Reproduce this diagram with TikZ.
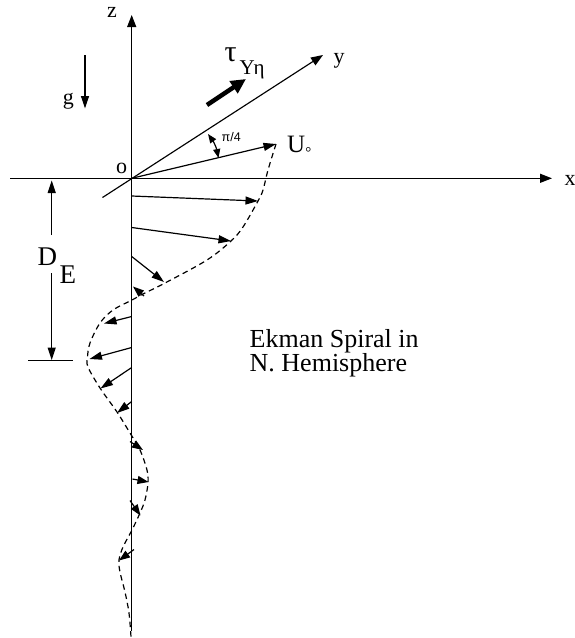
\documentclass[tikz,border=0pt]{standalone}
\usepackage{fontspec}
\setmainfont{Liberation Serif}
\newfontfamily\labsans{Liberation Sans}
\usetikzlibrary{arrows.meta}
\tikzset{
  axis/.style={line width=1.3pt, -{Triangle[length=12pt,width=9pt]}},
  thinaxis/.style={line width=1.3pt},
  vec/.style={line width=1.2pt, -{Triangle[length=12.5pt,width=8pt]}},
  smallvec/.style={line width=1.2pt, -{Triangle[length=11pt,width=8pt]}},
  spiral/.style={line width=1.2pt, dash pattern=on 5.5pt off 4pt},
  lbl/.style={inner sep=0pt, font=\fontsize{22}{22}\selectfont},
  stress/.style={line width=4.5pt, -{Triangle[length=15pt,width=14pt]}},
}
\begin{document}
\begin{tikzpicture}[x=1pt,y=-1pt]
\useasboundingbox (0,0) rectangle (575,638);
% key points
\coordinate (O) at (131.7,178.3);
\coordinate (ztop) at (131.7,15);
\coordinate (zbot) at (131.7,631);
\coordinate (xleft) at (10,178.3);
\coordinate (xtip) at (552,178.3);
\coordinate (yneg) at (102.5,197.5);
\coordinate (ytip) at (323,55);
\coordinate (Utip) at (276,144);
% axes
\draw[thinaxis] (O) -- (zbot);
\draw[axis] (O) -- (ztop);
\draw[axis] (xleft) -- (xtip);
\draw[axis, line width=1.15pt] (yneg) -- (ytip);
\draw[vec] (O) -- (Utip);
% labels of axes
\node[lbl] (zl) at (112,12) {z};
\node[lbl] (xl) at (570,180) {x};
\node[lbl] (yl) at (339,61) {y};
\node[lbl] (ol) at (121.7,168.5) {o};
% gravity
\coordinate (g1) at (85,55);
\coordinate (g2) at (85,108.5);
\draw[vec] (g1) -- (g2);
\node[lbl] (gl) at (68.3,101.5) {g};
% wind stress
\coordinate (s1) at (207,105);
\coordinate (s2) at (246,79);
\draw[stress] (s1) -- (s2);
\node[inner sep=0pt, anchor=base west, font=\fontsize{30}{30}\selectfont] (tau) at (224.5,61.7) {τ};
\node[inner sep=0pt, anchor=base west, font=\fontsize{21}{21}\selectfont] (tausub) at (239.5,74) {Υη};
% pi/4 angle
\coordinate (a1) at (208,134);
\coordinate (a2) at (218.5,158);
\draw[line width=1.2pt, {Triangle[length=9pt,width=7pt]}-{Triangle[length=9pt,width=7pt]}] (a1) to[bend left=12] (a2);
\node[inner sep=0pt, anchor=base west, font=\labsans\fontsize{12.5}{12.5}\selectfont] (pil) at (221.5,141) {π/4};
% U0
\node[inner sep=0pt, anchor=base west, font=\fontsize{25}{25}\selectfont] (Ul) at (287,152.5) {U\raisebox{-5pt}{\fontsize{15}{15}\selectfont °}};
% spiral curve
\draw[spiral] plot[smooth, tension=0.55] coordinates {
 (276,144) (268,170) (263,190) (258,201) (243,227) (231,241) (207,260)
 (165,283) (143,294) (132,300) (113,310) (100,323) (90,343) (87.5,357)
 (88,367) (100,388) (117,412) (130,433) (140,450) (147,470) (148,483)
 (145,500) (140,513) (132,530) (123,547) (119,560) (120,572) (125,592)
 (129,613) (131,637)};
% velocity vectors
\coordinate (v1s) at (131.7,196);   \coordinate (v1e) at (258,201);
\coordinate (v2s) at (131.7,227.5); \coordinate (v2e) at (231,241);
\coordinate (v3s) at (131.7,256.5); \coordinate (v3e) at (164,282);
\coordinate (v4s) at (144,296);     \coordinate (v4e) at (133,286.5);
\coordinate (v5s) at (131.7,316.5); \coordinate (v5e) at (104,323.5);
\coordinate (v6s) at (131.7,347.5); \coordinate (v6e) at (89.5,359);
\coordinate (v7s) at (131.7,367.5); \coordinate (v7e) at (100.5,388.5);
\coordinate (v8s) at (131.7,401.5); \coordinate (v8e) at (117,413);
\coordinate (v9s) at (130,441.5);   \coordinate (v9e) at (143,450);
\coordinate (v10s) at (132.5,479);  \coordinate (v10e) at (148.5,482);
\coordinate (v11s) at (130,500.5);  \coordinate (v11e) at (140.5,515.5);
\coordinate (v12s) at (134,549.5);  \coordinate (v12e) at (119,560.5);
\foreach \i in {1,2,3,5,6,7,8} {\draw[vec] (v\i s) -- (v\i e);}
\foreach \i in {4,9,10,11,12} {\draw[smallvec] (v\i s) -- (v\i e);}
% Ekman depth
\coordinate (d1) at (51.7,235);
\coordinate (d1t) at (51.7,180.5);
\coordinate (d2) at (51.7,273);
\coordinate (d2t) at (51.7,360);
\coordinate (tk1) at (28,360.7);
\coordinate (tk2) at (73,360.7);
\draw[vec] (d1) -- (d1t);
\draw[vec] (d2) -- (d2t);
\draw[line width=1.2pt] (tk1) -- (tk2);
\node[inner sep=0pt, anchor=base west, font=\fontsize{27}{27}\selectfont] (Dl) at (37.5,265) {D};
\node[inner sep=0pt, anchor=base west, font=\fontsize{27}{27}\selectfont] (El) at (59.5,283) {E};
% caption
\node[inner sep=0pt, anchor=base west, align=left, font=\fontsize{26}{21.6}\selectfont] (cap) at (249.5,371.7) {Ekman Spiral in\\N. Hemisphere};
\end{tikzpicture}
\end{document}
